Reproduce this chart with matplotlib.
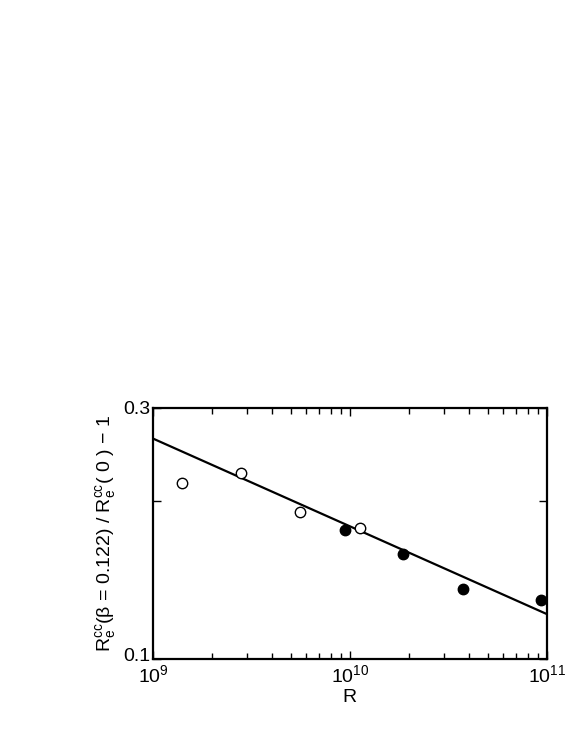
import numpy as np
import matplotlib.pyplot as plt
from matplotlib.ticker import FixedLocator, NullLocator, LogLocator, NullFormatter
from matplotlib.transforms import ScaledTranslation

# open circles
R_open = [1.40e9, 2.81e9, 5.61e9, 1.13e10]
y_open = [0.216, 0.226, 0.190, 0.1772]

# filled circles
R_filled = [9.44e9, 1.87e10, 3.74e10, 9.35e10]
y_filled = [0.1757, 0.1583, 0.1356, 0.1294]

# fitted power-law line (end points)
R_fit = [1e9, 1e11]
y_fit = [0.2624, 0.1217]

plt.rcParams.update({
    'font.family': ['Liberation Sans', 'DejaVu Sans'],
    'mathtext.fontset': 'custom',
    'mathtext.rm': 'Liberation Sans',
    'mathtext.it': 'Liberation Sans',
})

fig = plt.figure(figsize=(5.81, 7.52), dpi=100)
ax = fig.add_axes([0.2633, 0.1237, 0.678, 0.3338])

ax.plot(R_fit, y_fit, color='black', lw=1.6, zorder=2)
ax.plot(R_open, y_open, 'o', ms=7.5, mfc='white', mec='black', mew=1.0, zorder=3)
ax.plot(R_filled, y_filled, 'o', ms=7.5, mfc='black', mec='black', zorder=3)

ax.set_xscale('log')
ax.set_yscale('log')
ax.set_xlim(1e9, 1e11)
ax.set_ylim(0.1, 0.3)

ax.xaxis.set_major_locator(FixedLocator([1e9, 1e10, 1e11]))
ax.xaxis.set_minor_locator(LogLocator(base=10, subs=np.arange(2, 10)))
ax.xaxis.set_minor_formatter(NullFormatter())
ax.set_xticklabels(['10$^{9}$', '10$^{10}$', '10$^{11}$'])

ax.yaxis.set_major_locator(FixedLocator([0.1, 0.2, 0.3]))
ax.yaxis.set_minor_locator(NullLocator())
ax.set_yticklabels(['0.1', '', '0.3'])

ax.tick_params(which='both', direction='in', top=True, right=True, labelsize=14)
ax.tick_params(axis='x', pad=4)
ax.tick_params(axis='y', pad=2)
ax.tick_params(which='major', length=6, width=1.0)
ax.tick_params(which='minor', length=4, width=1.0)
for s in ax.spines.values():
    s.set_linewidth(1.6)

# nudge the bottom y label up a little so it clears the 10^9 label
lab = ax.get_yticklabels()[0]
lab.set_transform(lab.get_transform() + ScaledTranslation(0, 3 / 72, fig.dpi_scale_trans))

ax.set_xlabel('R', fontsize=14, labelpad=2)
ax.set_ylabel(r'R$_{\rm e}^{\rm cc}$($\beta$ = 0.122) / R$_{\rm e}^{\rm cc}$( 0 ) $-$ 1',
              fontsize=14, labelpad=4)

fig.savefig('out.png', dpi=100)
